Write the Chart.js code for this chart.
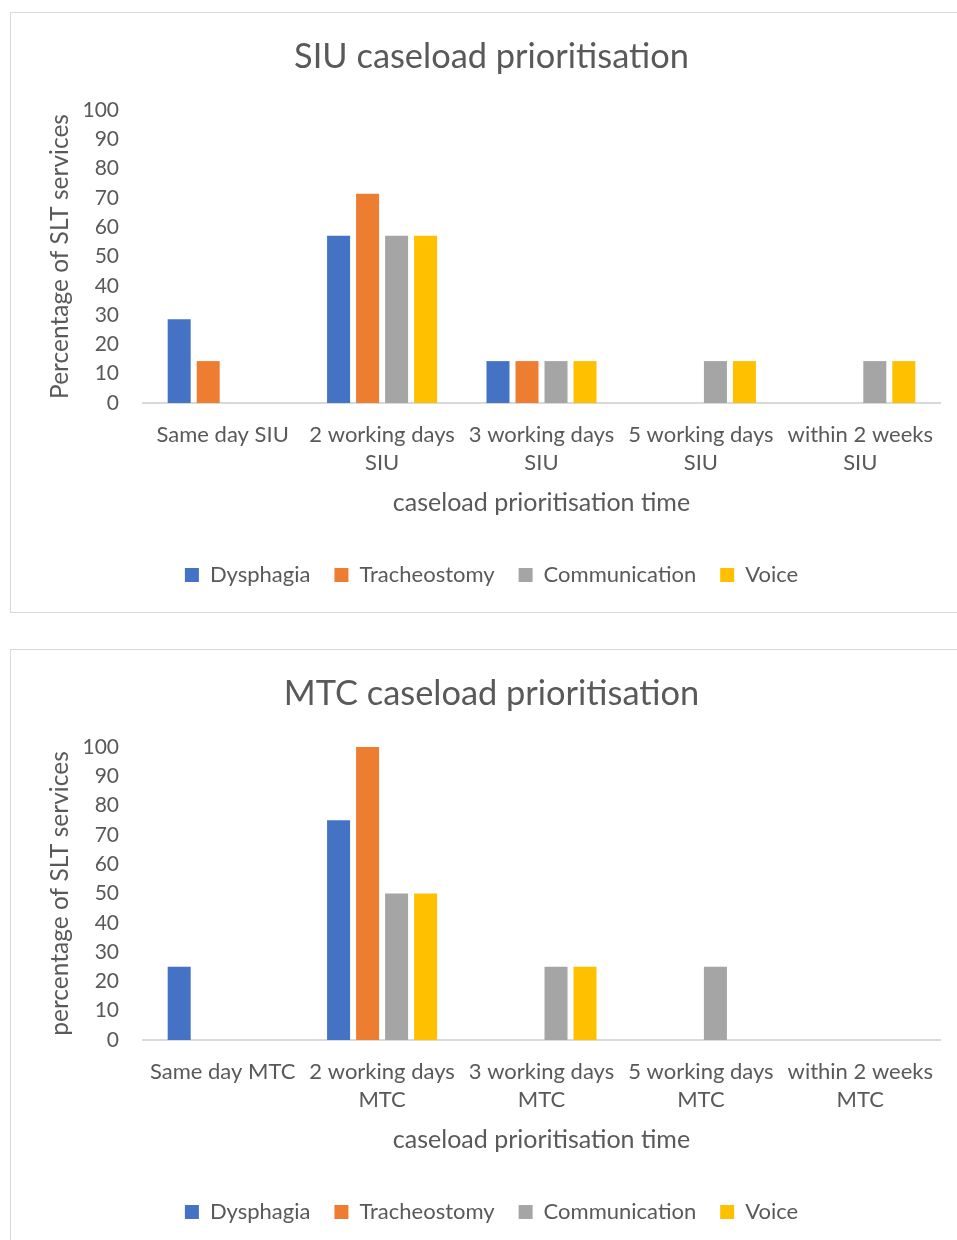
<!DOCTYPE html>
<html>
<head>
<meta charset="utf-8">
<script src="https://cdn.jsdelivr.net/npm/chart.js@4.4.1/dist/chart.umd.min.js"></script>
<style>
  html, body { margin: 0; padding: 0; background: #fff; width: 957px; height: 1240px; overflow: hidden; }
  .box { position: absolute; left: 10px; width: 958px; height: 601px; border: 1px solid #d9d9d9; box-sizing: border-box; background: #fff; }
  #boxSiu { top: 12px; }
  #boxMtc { top: 649px; }
  .box canvas { display: block; }
</style>
</head>
<body>
<div class="box" id="boxSiu"><canvas id="siuChart" width="956" height="599"></canvas></div>
<div class="box" id="boxMtc"><canvas id="mtcChart" width="956" height="599"></canvas></div>
<script>
// Series names and colours
const seriesNames = ['Dysphagia', 'Tracheostomy', 'Communication', 'Voice'];
const seriesColors = ['#4472C4', '#ED7D31', '#A5A5A5', '#FFC000'];

// SIU caseload prioritisation (% of SLT services)
const siuCategories = ['Same day SIU', ['2 working days', 'SIU'], ['3 working days', 'SIU'], ['5 working days', 'SIU'], ['within 2 weeks', 'SIU']];
const siuDysphagia     = [28.6, 57.1, 14.3, 0, 0];
const siuTracheostomy  = [14.3, 71.4, 14.3, 0, 0];
const siuCommunication = [0, 57.1, 14.3, 14.3, 14.3];
const siuVoice         = [0, 57.1, 14.3, 14.3, 14.3];

// MTC caseload prioritisation (% of SLT services)
const mtcCategories = ['Same day MTC', ['2 working days', 'MTC'], ['3 working days', 'MTC'], ['5 working days', 'MTC'], ['within 2 weeks', 'MTC']];
const mtcDysphagia     = [25, 75, 0, 0, 0];
const mtcTracheostomy  = [0, 100, 0, 0, 0];
const mtcCommunication = [0, 50, 25, 25, 0];
const mtcVoice         = [0, 50, 25, 0, 0];

// Axis ticks
const yMin = 0, yMax = 100, yStep = 10;

const TEXT = '#595959';
const FONT = 'Lato';

function buildChart(canvasId, titleText, yTitleText, categories, seriesValues) {
  const datasets = seriesValues.map((values, i) => ({
    label: seriesNames[i],
    data: values,
    backgroundColor: seriesColors[i],
    borderWidth: 0,
    categoryPercentage: 0.728,
    barPercentage: 0.793
  }));

  return new Chart(document.getElementById(canvasId), {
    type: 'bar',
    data: { labels: categories, datasets },
    options: {
      responsive: false,
      animation: false,
      devicePixelRatio: 1,
      layout: { padding: { left: 5, right: 0, top: 0, bottom: 16 } },
      plugins: {
        title: {
          display: true,
          text: titleText,
          color: TEXT,
          font: { family: FONT, size: 34.4, weight: 'normal', lineHeight: 1.2 },
          padding: { top: 23.4, bottom: 32.3 }
        },
        legend: {
          display: true,
          position: 'bottom',
          labels: {
            color: TEXT,
            font: { family: FONT, size: 22 },
            boxWidth: 14,
            boxHeight: 14,
            padding: 24
          }
        },
        tooltip: { enabled: false }
      },
      scales: {
        x: {
          grid: { display: false, drawTicks: false },
          border: { display: true, color: '#d9d9d9', width: 2 },
          ticks: {
            color: TEXT,
            font: { family: FONT, size: 22, lineHeight: 1.273 },
            padding: 18,
            maxRotation: 0,
            autoSkip: false
          },
          title: {
            display: true,
            text: 'caseload prioritisation time',
            color: TEXT,
            font: { family: FONT, size: 25, lineHeight: 1.2 },
            padding: { top: 0, bottom: 22 }
          },
          afterFit: s => { s.height = 137; }
        },
        y: {
          min: yMin,
          max: yMax,
          grid: { display: false, drawTicks: false },
          border: { display: false },
          ticks: {
            stepSize: yStep,
            color: TEXT,
            font: { family: FONT, size: 21 },
            padding: 24
          },
          title: {
            display: true,
            text: yTitleText,
            color: TEXT,
            font: { family: FONT, size: 24.5, lineHeight: 1.2 },
            padding: { top: 29.3, bottom: 0 }
          },
          afterFit: s => { s.width = 127; }
        },
        // empty right-hand margin so the plot ends short of the frame
        gutter: {
          type: 'linear',
          position: 'right',
          display: true,
          grid: { display: false, drawTicks: false },
          border: { display: false },
          ticks: { display: false },
          afterFit: s => { s.width = 27; }
        }
      }
    }
  });
}

buildChart('siuChart', 'SIU caseload prioritisation', 'Percentage of SLT services', siuCategories,
  [siuDysphagia, siuTracheostomy, siuCommunication, siuVoice]);
buildChart('mtcChart', 'MTC caseload prioritisation', 'percentage of SLT services', mtcCategories,
  [mtcDysphagia, mtcTracheostomy, mtcCommunication, mtcVoice]);
</script>
</body>
</html>
